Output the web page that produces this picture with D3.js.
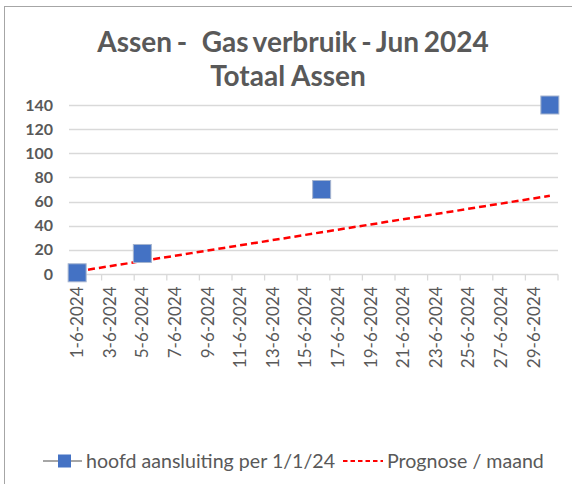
<!DOCTYPE html>
<html>
<head>
<meta charset="utf-8">
<script src="https://cdn.jsdelivr.net/npm/d3@7"></script>
<style>
  body { margin: 0; background: #fff; }
  svg { display: block; font-family: Lato, 'Open Sans', sans-serif; }
</style>
</head>
<body>
<svg id="chart" width="572" height="484"></svg>
<script>
// days of June 2024 (one slot per day on the date axis)
var days = d3.range( 1, 31 ).map( function( d ) { return d + '-6-2024'; } );

// tick labels, every second day
var tickLabels = [ '1-6-2024', '3-6-2024', '5-6-2024', '7-6-2024', '9-6-2024', '11-6-2024',
	'13-6-2024', '15-6-2024', '17-6-2024', '19-6-2024', '21-6-2024', '23-6-2024',
	'25-6-2024', '27-6-2024', '29-6-2024' ];

// hoofd aansluiting per 1/1/24 (measured readings)
var meterDays = [ '1-6-2024', '5-6-2024', '16-6-2024', '30-6-2024' ];
var meterValues = [ 1, 17, 70, 140 ];

// Prognose / maand, one value per day
var prognose = [ 2.2, 4.3, 6.5, 8.6, 10.8, 13.0, 15.1, 17.3, 19.4, 21.6,
	23.8, 25.9, 28.1, 30.2, 32.4, 34.6, 36.7, 38.9, 41.0, 43.2,
	45.4, 47.5, 49.7, 51.8, 54.0, 56.2, 58.3, 60.5, 62.6, 64.8 ];

var yTicks = [ 0, 20, 40, 60, 80, 100, 120, 140 ];

var svg = d3.select( '#chart' ),
	plotLeft = 69,
	plotRight = 558,
	plotTop = 105,
	plotBottom = 274,
	textColor = '#595959',
	gridColor = '#D9D9D9';

// chart border
svg.append( 'rect' )
	.attr( 'x', 4.5 ).attr( 'y', 6.5 )
	.attr( 'width', 600 ).attr( 'height', 600 )
	.attr( 'fill', 'none' ).attr( 'stroke', '#A6A6A6' );

// title
svg.append( 'text' )
	.attr( 'x', 293 ).attr( 'y', 52 )
	.attr( 'text-anchor', 'middle' )
	.attr( 'font-size', 28 ).attr( 'font-weight', 'bold' )
	.attr( 'word-spacing', -2 )
	.attr( 'fill', textColor )
	.attr( 'xml:space', 'preserve' )
	.text( 'Assen -   Gas verbruik - Jun 2024' );

svg.append( 'text' )
	.attr( 'x', 288 ).attr( 'y', 86 )
	.attr( 'text-anchor', 'middle' )
	.attr( 'font-size', 28 ).attr( 'font-weight', 'bold' )
	.attr( 'fill', textColor )
	.text( 'Totaal Assen' );

var x = d3.scaleBand().domain( days ).range( [ plotLeft, plotRight ] );
var y = d3.scaleLinear().domain( [ 0, 140 ] ).range( [ plotBottom, plotTop ] );

// gridlines
svg.append( 'g' )
	.selectAll( 'line' )
	.data( yTicks.filter( function( d ) { return d > 0; } ) )
	.enter().append( 'line' )
	.attr( 'x1', plotLeft ).attr( 'x2', plotRight )
	.attr( 'y1', function( d ) { return Math.round( y( d ) ) + 0.5; } )
	.attr( 'y2', function( d ) { return Math.round( y( d ) ) + 0.5; } )
	.attr( 'stroke', gridColor ).attr( 'stroke-width', 1.3 );

// y axis labels
var yAxis = svg.append( 'g' )
	.attr( 'transform', 'translate(' + ( plotLeft - 16 ) + ',0)' )
	.call( d3.axisLeft( y ).tickValues( yTicks ).tickSize( 0 ).tickPadding( 0 ) );
yAxis.select( '.domain' ).remove();
yAxis.selectAll( 'text' )
	.attr( 'font-family', 'Lato, sans-serif' )
	.attr( 'font-size', 16 ).attr( 'font-weight', 'bold' )
	.attr( 'fill', textColor );

// x axis: ticks on slot boundaries every two days
var xAxis = svg.append( 'g' ).attr( 'transform', 'translate(0,' + ( Math.round( plotBottom ) + 0.5 ) + ')' );
xAxis.append( 'line' )
	.attr( 'x1', plotLeft ).attr( 'x2', plotRight )
	.attr( 'stroke', gridColor ).attr( 'stroke-width', 1.3 );
xAxis.selectAll( 'line.tick' )
	.data( days.filter( function( d, i ) { return i % 2 === 0; } ).concat( [ null ] ) )
	.enter().append( 'line' )
	.attr( 'class', 'tick' )
	.attr( 'x1', function( d ) { return d ? x( d ) : plotRight; } )
	.attr( 'x2', function( d ) { return d ? x( d ) : plotRight; } )
	.attr( 'y1', 0 ).attr( 'y2', 6 )
	.attr( 'stroke', gridColor ).attr( 'stroke-width', 1.3 );
xAxis.selectAll( 'text' )
	.data( tickLabels )
	.enter().append( 'text' )
	.attr( 'transform', function( d ) {
		return 'translate(' + ( x( d ) + x.bandwidth() / 2 + 6 ) + ',12) rotate(-90)';
	} )
	.attr( 'text-anchor', 'end' )
	.attr( 'font-family', 'Lato, sans-serif' )
	.attr( 'font-size', 17 )
	.attr( 'fill', textColor )
	.text( function( d ) { return d; } );

// prognose line
var line = d3.line()
	.x( function( d, i ) { return x( days[ i ] ) + x.bandwidth() / 2; } )
	.y( function( d ) { return y( d ); } );

svg.append( 'path' )
	.datum( prognose )
	.attr( 'd', line )
	.attr( 'fill', 'none' )
	.attr( 'stroke', '#FF0000' )
	.attr( 'stroke-width', 2.5 )
	.attr( 'stroke-dasharray', '7,4' );

// markers
svg.append( 'g' )
	.selectAll( 'rect' )
	.data( meterValues )
	.enter().append( 'rect' )
	.attr( 'x', function( d, i ) { return x( meterDays[ i ] ) + x.bandwidth() / 2 - 9; } )
	.attr( 'y', function( d ) { return y( d ) - 9; } )
	.attr( 'width', 18 ).attr( 'height', 18 )
	.attr( 'fill', '#4472C4' )
	.attr( 'stroke', '#A5B4CF' ).attr( 'stroke-width', 1 );

// legend
var legend = svg.append( 'g' ).attr( 'transform', 'translate(0,461)' );
legend.append( 'line' )
	.attr( 'x1', 43 ).attr( 'x2', 82 )
	.attr( 'stroke', '#A6A6A6' ).attr( 'stroke-width', 2 );
legend.append( 'rect' )
	.attr( 'x', 58 ).attr( 'y', -6.5 )
	.attr( 'width', 13 ).attr( 'height', 13 )
	.attr( 'fill', '#4472C4' );
legend.append( 'text' )
	.attr( 'x', 86 ).attr( 'y', 6.5 )
	.attr( 'font-size', 19.6 )
	.attr( 'fill', textColor )
	.text( 'hoofd aansluiting per 1/1/24' );
legend.append( 'line' )
	.attr( 'x1', 343 ).attr( 'x2', 383 )
	.attr( 'stroke', '#FF0000' ).attr( 'stroke-width', 2 )
	.attr( 'stroke-dasharray', '4.5,3' );
legend.append( 'text' )
	.attr( 'x', 387 ).attr( 'y', 6.5 )
	.attr( 'font-size', 19.6 )
	.attr( 'fill', textColor )
	.text( 'Prognose / maand' );
</script>
</body>
</html>
